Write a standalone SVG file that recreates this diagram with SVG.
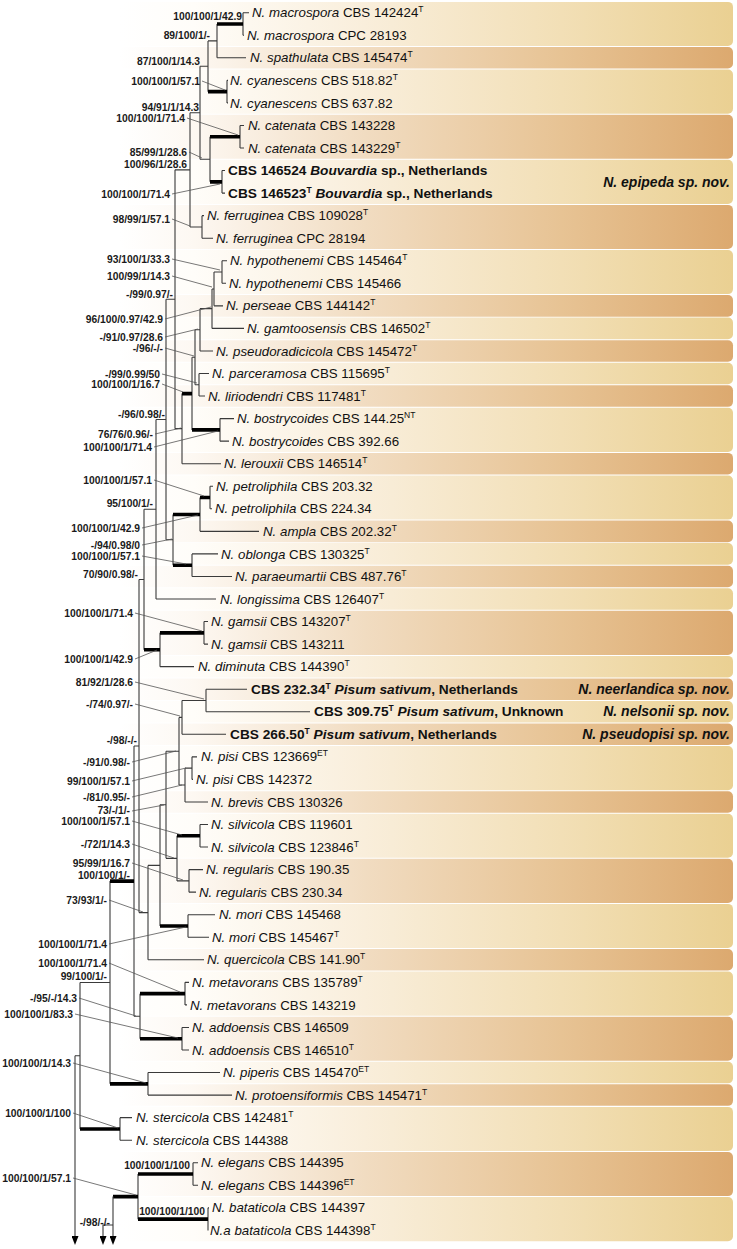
<svg xmlns="http://www.w3.org/2000/svg" width="737" height="1249" viewBox="0 0 737 1249">
<defs>
<linearGradient id="gl" x1="0" y1="0" x2="1" y2="0"><stop offset="0" stop-color="#ffffff"/><stop offset="0.12" stop-color="#fffdf9"/><stop offset="0.4" stop-color="#f9eedb"/><stop offset="0.72" stop-color="#f2dfb6"/><stop offset="1" stop-color="#ead092"/></linearGradient>
<linearGradient id="gd" x1="0" y1="0" x2="1" y2="0"><stop offset="0" stop-color="#ffffff"/><stop offset="0.12" stop-color="#fdf8f2"/><stop offset="0.4" stop-color="#f1dcc1"/><stop offset="0.72" stop-color="#e7c394"/><stop offset="1" stop-color="#dca96f"/></linearGradient>
<marker id="arr" markerWidth="9" markerHeight="7" refX="1" refY="3.5" orient="auto" markerUnits="userSpaceOnUse"><path d="M0,0 L9,3.5 L0,7 z" fill="#000"/></marker>
<style>
.bl{fill:url(#gl)}.bk{fill:url(#gd)}
.b{fill:none;stroke:#3a3a3a;stroke-width:1.1}
.k{fill:none;stroke:#000;stroke-width:3.6}
.l{fill:none;stroke:#555;stroke-width:0.8}
.tx{font-family:"Liberation Sans",Arial,sans-serif;font-size:13.3px;fill:#111}
.bd{font-weight:bold;font-size:13.7px}
.i{font-style:italic}
.su{font-size:8.5px}
.sp{font-family:"Liberation Sans",Arial,sans-serif;font-size:10.3px;font-weight:bold;fill:#1a1a1a;text-anchor:end}
.nov{font-family:"Liberation Sans",Arial,sans-serif;font-size:14px;font-weight:bold;font-style:italic;fill:#111;text-anchor:end}
</style>
</defs>
<rect width="737" height="1249" fill="#fff"/>
<g id="bands">
<rect class="bl" x="120" y="1.9" width="613" height="44.1" rx="5"/>
<rect class="bk" x="120" y="47" width="613" height="21.55" rx="5"/>
<rect class="bl" x="120" y="69.6" width="613" height="44.1" rx="5"/>
<rect class="bk" x="120" y="114.7" width="613" height="44.1" rx="5"/>
<rect class="bl" x="120" y="159.8" width="613" height="44.1" rx="5"/>
<rect class="bk" x="120" y="204.9" width="613" height="44.1" rx="5"/>
<rect class="bl" x="120" y="250" width="613" height="44.1" rx="5"/>
<rect class="bk" x="120" y="295.1" width="613" height="21.55" rx="5"/>
<rect class="bl" x="120" y="317.6" width="613" height="21.55" rx="5"/>
<rect class="bk" x="120" y="340.2" width="613" height="21.55" rx="5"/>
<rect class="bl" x="120" y="362.7" width="613" height="21.55" rx="5"/>
<rect class="bk" x="120" y="385.3" width="613" height="21.55" rx="5"/>
<rect class="bl" x="120" y="407.8" width="613" height="44.1" rx="5"/>
<rect class="bk" x="120" y="452.9" width="613" height="21.55" rx="5"/>
<rect class="bl" x="120" y="475.5" width="613" height="44.1" rx="5"/>
<rect class="bk" x="120" y="520.6" width="613" height="21.55" rx="5"/>
<rect class="bl" x="120" y="543.1" width="613" height="21.55" rx="5"/>
<rect class="bk" x="120" y="565.7" width="613" height="21.55" rx="5"/>
<rect class="bl" x="120" y="588.2" width="613" height="21.55" rx="5"/>
<rect class="bk" x="120" y="610.8" width="613" height="44.1" rx="5"/>
<rect class="bl" x="120" y="655.9" width="613" height="21.55" rx="5"/>
<rect class="bk" x="120" y="678.4" width="613" height="21.55" rx="5"/>
<rect class="bl" x="120" y="701" width="613" height="21.55" rx="5"/>
<rect class="bk" x="120" y="723.5" width="613" height="21.55" rx="5"/>
<rect class="bl" x="120" y="746.1" width="613" height="44.1" rx="5"/>
<rect class="bk" x="120" y="791.2" width="613" height="21.55" rx="5"/>
<rect class="bl" x="120" y="813.7" width="613" height="44.1" rx="5"/>
<rect class="bk" x="120" y="858.8" width="613" height="44.1" rx="5"/>
<rect class="bl" x="120" y="903.9" width="613" height="44.1" rx="5"/>
<rect class="bk" x="120" y="949" width="613" height="21.55" rx="5"/>
<rect class="bl" x="120" y="971.6" width="613" height="44.1" rx="5"/>
<rect class="bk" x="120" y="1016.7" width="613" height="44.1" rx="5"/>
<rect class="bl" x="120" y="1061.8" width="613" height="21.55" rx="5"/>
<rect class="bk" x="120" y="1084.3" width="613" height="21.55" rx="5"/>
<rect class="bl" x="120" y="1106.9" width="613" height="44.1" rx="5"/>
<rect class="bk" x="120" y="1152" width="613" height="44.1" rx="5"/>
<rect class="bl" x="120" y="1197.1" width="613" height="44.1" rx="5"/>
</g>
<g id="connectors">
<path class="b" d="M243 12.7V35.25M217 23.98V57.8M227 80.35V102.9M208 40.89V91.63M240 125.45V148M222 170.55V193.1M210 136.73V181.83M200 66.26V159.28M202 215.65V238.2M190 112.77V226.93M222 260.75V283.3M214 272.03V305.85M212 288.94V328.4M200 308.67V350.95M199 373.5V396.05M195 329.81V384.78M220 418.6V441.15M192 357.3V429.88M182 393.59V463.7M175 169.85V428.65M210 486.25V508.8M200 497.53V531.35M192 553.9V576.45M173 514.44V565.18M166 299.25V539.81M156 419.53V599M204 621.55V644.1M160 632.83V666.65M144 509.27V649.74M206 689.2V711.75M182 700.48V734.3M192 756.85V779.4M185 768.13V801.95M179 717.39V785.04M200 824.5V847.05M189 869.6V892.15M177 835.78V880.88M166 751.22V858.33M188 914.7V937.25M160 804.78V925.98M148 865.38V959.8M139 579.5V912.59M185 982.35V1004.9M182 1027.45V1050M140 993.63V1038.73M134 746.05V1016.18M148 1072.55V1095.1M110 881.12V1083.83M120 1117.65V1140.2M80 982.48V1128.93M193 1162.75V1185.3M208 1207.85V1230.4M138 1174.03V1219.13"/>
<path class="b" d="M208 40.89H217M200 66.26H208M190 112.77H200M200 159.28H210M175 169.85H190M190 226.93H202M214 272.03H222M212 288.94H214M200 308.67H212M195 329.81H200M195 384.78H199M192 357.3H195M175 428.65H182M166 299.25H175M166 539.81H173M156 419.53H166M144 509.27H156M139 579.5H144M182 700.48H206M179 717.39H182M185 768.13H192M179 785.04H185M166 751.22H179M177 880.88H189M166 858.33H177M160 804.78H166M148 865.38H160M139 912.59H148M134 746.05H139M134 1016.18H140M80 982.48H110M75 1055.7H80"/>
<path class="b" d="M243 12.7H249M243 35.25H244M217 57.8H246M227 80.35H228M227 102.9H228M240 125.45H244M240 148H244M222 170.55H225M222 193.1H225M202 215.65H204M202 238.2H213M222 260.75H227M222 283.3H226M214 305.85H223M212 328.4H244M200 350.95H213M199 373.5H209M199 396.05H205M220 418.6H234M220 441.15H229M182 463.7H221M210 486.25H213M210 508.8H212M200 531.35H259M192 553.9H218M192 576.45H232M156 599H216M204 621.55H208M204 644.1H208M160 666.65H194M206 689.2H247M206 711.75H310M182 734.3H226M192 756.85H197M192 779.4H193M185 801.95H208M200 824.5H208M200 847.05H208M189 869.6H203M189 892.15H196M188 914.7H215M188 937.25H209M148 959.8H204M185 982.35H189M185 1004.9H187M182 1027.45H189M182 1050H189M148 1072.55H220M148 1095.1H232M120 1117.65H132M120 1140.2H132M193 1162.75H198M193 1185.3H198M208 1207.85H209"/>
<path class="k" d="M217 23.98H243M208 91.63H227M210 136.73H240M210 181.83H222M182 393.59H192M192 429.88H220M200 497.53H210M173 514.44H200M173 565.18H192M160 632.83H204M144 649.74H160M177 835.78H200M160 925.98H188M140 993.63H185M140 1038.73H182M110 881.12H134M110 1083.83H148M80 1128.93H120M138 1174.03H193M138 1219.13H208M113 1196.58H138"/>
<path class="b" marker-end="url(#arr)" d="M75 1055.7V1237"/>
<path class="b" marker-end="url(#arr)" d="M113 1196.58V1237"/>
<path class="b" marker-end="url(#arr)" d="M113 1225H103V1237"/>
<path class="l" d="M202 81L225 90M187 118L238 135M189 152L202 158M172 194L220 184M172 219L190 226M172 259L220 270M172 276L212 287M165 319L211 307M165 337L198 329M165 348L194 356M162 374L197 383M162 384L183 392M155 434L181 428M154 447L218 431M154 480L204 496M142 528L198 515M142 545L172 539M142 556L186 564M135 613L202 631M135 659L157 650M135 682L204 699M135 704L180 716M132 762L176 751M132 781L186 768M132 797L182 785M132 811L164 805M132 821L182 835M132 844L174 858M132 863L183 880M109 900L143 912M109 944L186 927M109 963L180 992M79 998L136 1016M75 1014L178 1038M73 1063L146 1083M73 1113L118 1128M73 1178L136 1195"/>
</g>
<g id="supports">
<text class="sp" x="242" y="19.8">100/100/1/42.9</text>
<text class="sp" x="210" y="38.8">89/100/1/-</text>
<text class="sp" x="200" y="64.8">87/100/1/14.3</text>
<text class="sp" x="200" y="84.8">100/100/1/57.1</text>
<text class="sp" x="199" y="110.8">94/91/1/14.3</text>
<text class="sp" x="185" y="121.8">100/100/1/71.4</text>
<text class="sp" x="187" y="155.8">85/99/1/28.6</text>
<text class="sp" x="187" y="167.8">100/96/1/28.6</text>
<text class="sp" x="170" y="197.8">100/100/1/71.4</text>
<text class="sp" x="170" y="222.8">98/99/1/57.1</text>
<text class="sp" x="170" y="262.8">93/100/1/33.3</text>
<text class="sp" x="170" y="279.8">100/99/1/14.3</text>
<text class="sp" x="173" y="297.8">-/99/0.97/-</text>
<text class="sp" x="163" y="322.8">96/100/0.97/42.9</text>
<text class="sp" x="163" y="340.6">-/91/0.97/28.6</text>
<text class="sp" x="163" y="351.8">-/96/-/-</text>
<text class="sp" x="160" y="377.6">-/99/0.99/50</text>
<text class="sp" x="160" y="388.4">100/100/1/16.7</text>
<text class="sp" x="165" y="417.8">-/96/0.98/-</text>
<text class="sp" x="153" y="437.6">76/76/0.96/-</text>
<text class="sp" x="152" y="451">100/100/1/71.4</text>
<text class="sp" x="152" y="483.8">100/100/1/57.1</text>
<text class="sp" x="153" y="506.8">95/100/1/-</text>
<text class="sp" x="140" y="531.8">100/100/1/42.9</text>
<text class="sp" x="140" y="548.6">-/94/0.98/0</text>
<text class="sp" x="140" y="559.8">100/100/1/57.1</text>
<text class="sp" x="138" y="577.8">70/90/0.98/-</text>
<text class="sp" x="133" y="616.8">100/100/1/71.4</text>
<text class="sp" x="133" y="662.8">100/100/1/42.9</text>
<text class="sp" x="133" y="685.8">81/92/1/28.6</text>
<text class="sp" x="133" y="707.8">-/74/0.97/-</text>
<text class="sp" x="137" y="743.8">-/98/-/-</text>
<text class="sp" x="130" y="765.8">-/91/0.98/-</text>
<text class="sp" x="130" y="784.8">99/100/1/57.1</text>
<text class="sp" x="130" y="800.6">-/81/0.95/-</text>
<text class="sp" x="130" y="814.4">73/-/1/-</text>
<text class="sp" x="130" y="825.4">100/100/1/57.1</text>
<text class="sp" x="130" y="847.8">-/72/1/14.3</text>
<text class="sp" x="130" y="866.6">95/99/1/16.7</text>
<text class="sp" x="130" y="878.8">100/100/1/-</text>
<text class="sp" x="107" y="903.8">73/93/1/-</text>
<text class="sp" x="107" y="947.8">100/100/1/71.4</text>
<text class="sp" x="107" y="966.6">100/100/1/71.4</text>
<text class="sp" x="107" y="979.8">99/100/1/-</text>
<text class="sp" x="77" y="1001.8">-/95/-/14.3</text>
<text class="sp" x="73" y="1017.8">100/100/1/83.3</text>
<text class="sp" x="71" y="1066.8">100/100/1/14.3</text>
<text class="sp" x="71" y="1116.8">100/100/1/100</text>
<text class="sp" x="190" y="1168.8">100/100/1/100</text>
<text class="sp" x="71" y="1181.8">100/100/1/57.1</text>
<text class="sp" x="205" y="1214.8">100/100/1/100</text>
<text class="sp" x="110" y="1225.8">-/98/-/-</text>
</g>
<g id="t01"><text class="tx" x="252" y="17.3"><tspan class="i">N. macrospora</tspan> CBS 142424<tspan class="su" dy="-5">T</tspan></text></g>
<g id="t02"><text class="tx" x="247" y="39.85"><tspan class="i">N. macrospora</tspan> CPC 28193</text></g>
<g id="t03"><text class="tx" x="250" y="62.4"><tspan class="i">N. spathulata</tspan> CBS 145474<tspan class="su" dy="-5">T</tspan></text></g>
<g id="t04"><text class="tx" x="230" y="84.95"><tspan class="i">N. cyanescens</tspan> CBS 518.82<tspan class="su" dy="-5">T</tspan></text></g>
<g id="t05"><text class="tx" x="230" y="107.5"><tspan class="i">N. cyanescens</tspan> CBS 637.82</text></g>
<g id="t06"><text class="tx" x="248" y="130.05"><tspan class="i">N. catenata</tspan> CBS 143228</text></g>
<g id="t07"><text class="tx" x="248" y="152.6"><tspan class="i">N. catenata</tspan> CBS 143229<tspan class="su" dy="-5">T</tspan></text></g>
<g id="t08"><text class="tx bd" x="228" y="175.15">CBS 146524 <tspan class="i">Bouvardia</tspan> sp., Netherlands</text></g>
<g id="t09"><text class="tx bd" x="228" y="197.7">CBS 146523<tspan class="su" dy="-5">T</tspan><tspan class="i" dy="5"> Bouvardia</tspan> sp., Netherlands</text></g>
<g id="t10"><text class="tx" x="207" y="220.25"><tspan class="i">N. ferruginea</tspan> CBS 109028<tspan class="su" dy="-5">T</tspan></text></g>
<g id="t11"><text class="tx" x="216" y="242.8"><tspan class="i">N. ferruginea</tspan> CPC 28194</text></g>
<g id="t12"><text class="tx" x="230" y="265.35"><tspan class="i">N. hypothenemi</tspan> CBS 145464<tspan class="su" dy="-5">T</tspan></text></g>
<g id="t13"><text class="tx" x="229" y="287.9"><tspan class="i">N. hypothenemi</tspan> CBS 145466</text></g>
<g id="t14"><text class="tx" x="226" y="310.45"><tspan class="i">N. perseae</tspan> CBS 144142<tspan class="su" dy="-5">T</tspan></text></g>
<g id="t15"><text class="tx" x="247" y="333"><tspan class="i">N. gamtoosensis</tspan> CBS 146502<tspan class="su" dy="-5">T</tspan></text></g>
<g id="t16"><text class="tx" x="216" y="355.55"><tspan class="i">N. pseudoradicicola</tspan> CBS 145472<tspan class="su" dy="-5">T</tspan></text></g>
<g id="t17"><text class="tx" x="212" y="378.1"><tspan class="i">N. parceramosa</tspan> CBS 115695<tspan class="su" dy="-5">T</tspan></text></g>
<g id="t18"><text class="tx" x="208" y="400.65"><tspan class="i">N. liriodendri</tspan> CBS 117481<tspan class="su" dy="-5">T</tspan></text></g>
<g id="t19"><text class="tx" x="237" y="423.2"><tspan class="i">N. bostrycoides</tspan> CBS 144.25<tspan class="su" dy="-5">NT</tspan></text></g>
<g id="t20"><text class="tx" x="232" y="445.75"><tspan class="i">N. bostrycoides</tspan> CBS 392.66</text></g>
<g id="t21"><text class="tx" x="224" y="468.3"><tspan class="i">N. lerouxii</tspan> CBS 146514<tspan class="su" dy="-5">T</tspan></text></g>
<g id="t22"><text class="tx" x="216" y="490.85"><tspan class="i">N. petroliphila</tspan> CBS 203.32</text></g>
<g id="t23"><text class="tx" x="215" y="513.4"><tspan class="i">N. petroliphila</tspan> CBS 224.34</text></g>
<g id="t24"><text class="tx" x="263" y="535.95"><tspan class="i">N. ampla</tspan> CBS 202.32<tspan class="su" dy="-5">T</tspan></text></g>
<g id="t25"><text class="tx" x="221" y="558.5"><tspan class="i">N. oblonga</tspan> CBS 130325<tspan class="su" dy="-5">T</tspan></text></g>
<g id="t26"><text class="tx" x="235" y="581.05"><tspan class="i">N. paraeumartii</tspan> CBS 487.76<tspan class="su" dy="-5">T</tspan></text></g>
<g id="t27"><text class="tx" x="220" y="603.6"><tspan class="i">N. longissima</tspan> CBS 126407<tspan class="su" dy="-5">T</tspan></text></g>
<g id="t28"><text class="tx" x="211" y="626.15"><tspan class="i">N. gamsii</tspan> CBS 143207<tspan class="su" dy="-5">T</tspan></text></g>
<g id="t29"><text class="tx" x="211" y="648.7"><tspan class="i">N. gamsii</tspan> CBS 143211</text></g>
<g id="t30"><text class="tx" x="198" y="671.25"><tspan class="i">N. diminuta</tspan> CBS 144390<tspan class="su" dy="-5">T</tspan></text></g>
<g id="t31"><text class="tx bd" x="251" y="693.8">CBS 232.34<tspan class="su" dy="-5">T</tspan><tspan class="i" dy="5"> Pisum sativum</tspan>, Netherlands</text><text class="nov" x="730" y="693.8">N. neerlandica sp. nov.</text></g>
<g id="t32"><text class="tx bd" x="314" y="716.35">CBS 309.75<tspan class="su" dy="-5">T</tspan><tspan class="i" dy="5"> Pisum sativum</tspan>, Unknown</text><text class="nov" x="730" y="716.35">N. nelsonii sp. nov.</text></g>
<g id="t33"><text class="tx bd" x="230" y="738.9">CBS 266.50<tspan class="su" dy="-5">T</tspan><tspan class="i" dy="5"> Pisum sativum</tspan>, Netherlands</text><text class="nov" x="730" y="738.9">N. pseudopisi sp. nov.</text></g>
<g id="t34"><text class="tx" x="201" y="761.45"><tspan class="i">N. pisi</tspan> CBS 123669<tspan class="su" dy="-5">ET</tspan></text></g>
<g id="t35"><text class="tx" x="196" y="784"><tspan class="i">N. pisi</tspan> CBS 142372</text></g>
<g id="t36"><text class="tx" x="211" y="806.55"><tspan class="i">N. brevis</tspan> CBS 130326</text></g>
<g id="t37"><text class="tx" x="211" y="829.1"><tspan class="i">N. silvicola</tspan> CBS 119601</text></g>
<g id="t38"><text class="tx" x="211" y="851.65"><tspan class="i">N. silvicola</tspan> CBS 123846<tspan class="su" dy="-5">T</tspan></text></g>
<g id="t39"><text class="tx" x="206" y="874.2"><tspan class="i">N. regularis</tspan> CBS 190.35</text></g>
<g id="t40"><text class="tx" x="199" y="896.75"><tspan class="i">N. regularis</tspan> CBS 230.34</text></g>
<g id="t41"><text class="tx" x="219" y="919.3"><tspan class="i">N. mori</tspan> CBS 145468</text></g>
<g id="t42"><text class="tx" x="212" y="941.85"><tspan class="i">N. mori</tspan> CBS 145467<tspan class="su" dy="-5">T</tspan></text></g>
<g id="t43"><text class="tx" x="207" y="964.4"><tspan class="i">N. quercicola</tspan> CBS 141.90<tspan class="su" dy="-5">T</tspan></text></g>
<g id="t44"><text class="tx" x="192" y="986.95"><tspan class="i">N. metavorans</tspan> CBS 135789<tspan class="su" dy="-5">T</tspan></text></g>
<g id="t45"><text class="tx" x="190" y="1009.5"><tspan class="i">N. metavorans</tspan> CBS 143219</text></g>
<g id="t46"><text class="tx" x="192" y="1032.05"><tspan class="i">N. addoensis</tspan> CBS 146509</text></g>
<g id="t47"><text class="tx" x="192" y="1054.6"><tspan class="i">N. addoensis</tspan> CBS 146510<tspan class="su" dy="-5">T</tspan></text></g>
<g id="t48"><text class="tx" x="223" y="1077.15"><tspan class="i">N. piperis</tspan> CBS 145470<tspan class="su" dy="-5">ET</tspan></text></g>
<g id="t49"><text class="tx" x="235" y="1099.7"><tspan class="i">N. protoensiformis</tspan> CBS 145471<tspan class="su" dy="-5">T</tspan></text></g>
<g id="t50"><text class="tx" x="136" y="1122.25"><tspan class="i">N. stercicola</tspan> CBS 142481<tspan class="su" dy="-5">T</tspan></text></g>
<g id="t51"><text class="tx" x="136" y="1144.8"><tspan class="i">N. stercicola</tspan> CBS 144388</text></g>
<g id="t52"><text class="tx" x="201" y="1167.35"><tspan class="i">N. elegans</tspan> CBS 144395</text></g>
<g id="t53"><text class="tx" x="201" y="1189.9"><tspan class="i">N. elegans</tspan> CBS 144396<tspan class="su" dy="-5">ET</tspan></text></g>
<g id="t54"><text class="tx" x="212" y="1212.45"><tspan class="i">N. bataticola</tspan> CBS 144397</text></g>
<g id="t55"><text class="tx" x="210" y="1235"><tspan class="i">N.a bataticola</tspan> CBS 144398<tspan class="su" dy="-5">T</tspan></text></g>
<g id="epipeda"><text class="nov" x="730" y="186.5">N. epipeda sp. nov.</text></g>
</svg>
